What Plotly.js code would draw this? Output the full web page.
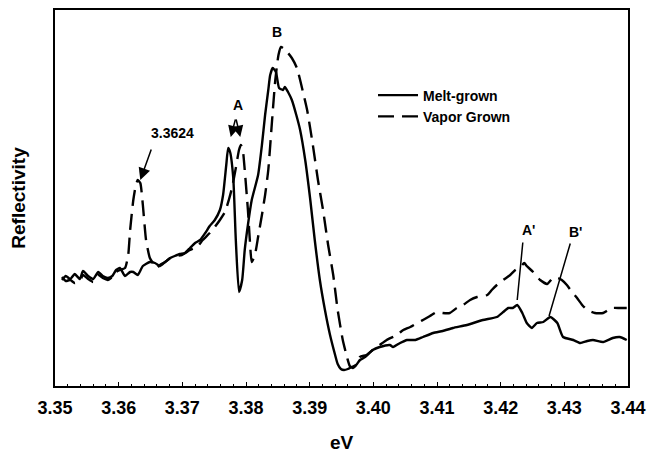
<!DOCTYPE html>
<html>
<head>
<meta charset="utf-8">
<script src="https://cdn.plot.ly/plotly-3.0.1.min.js"></script>
<style>html,body{margin:0;padding:0;background:#fff;}#chart{width:647px;height:453px;}</style>
</head>
<body>
<div id="chart"></div>
<script>
// Melt-grown (solid)
const meltEV = [3.3511,3.3517,3.3524,3.3531,3.3539,3.3544,3.3552,3.3560,3.3568,3.3575,3.3583,3.3590,3.3596,3.3602,3.3610,3.3618,3.3623,3.3630,3.3638,3.3649,3.3657,3.3665,3.3673,3.3681,3.3688,3.3696,3.3704,3.3712,3.3720,3.3728,3.3736,3.3743,3.3751,3.3759,3.3764,3.3769,3.3772,3.3775,3.3780,3.3784,3.3789,3.3794,3.3798,3.3803,3.3809,3.3819,3.3825,3.3830,3.3835,3.3838,3.3842,3.3847,3.3852,3.3858,3.3861,3.3866,3.3872,3.3879,3.3885,3.3893,3.3901,3.3908,3.3916,3.3924,3.3932,3.3940,3.3944,3.3949,3.3954,3.3960,3.3966,3.3973,3.3979,3.3987,3.3999,3.4010,3.4026,3.4031,3.4042,3.4053,3.4066,3.4078,3.4094,3.4109,3.4125,3.4147,3.4172,3.4194,3.4204,3.4212,3.4219,3.4226,3.4234,3.4241,3.4249,3.4257,3.4267,3.4278,3.4289,3.4298,3.4314,3.4325,3.4336,3.4345,3.4361,3.4376,3.4387,3.4398];
const meltR = [10.6,11.0,10.7,11.2,10.7,11.5,11.0,10.7,11.4,11.0,10.8,11.0,11.6,11.8,11.0,11.4,11.4,11.1,12.0,12.4,12.3,12.0,12.4,12.8,13.0,13.2,13.3,13.8,14.3,14.6,15.3,16.0,16.6,17.6,19.1,22.1,23.8,23.4,20.8,14.6,9.4,10.6,13.6,16.1,18.6,21.1,24.1,27.1,29.6,31.1,31.8,31.4,29.8,29.6,29.9,29.4,28.6,27.1,25.6,22.6,18.6,14.6,10.6,7.6,5.1,3.1,2.2,1.7,1.6,1.7,1.9,2.1,2.6,2.9,3.6,3.9,4.1,3.9,4.3,4.6,4.6,4.9,5.3,5.5,5.8,6.1,6.6,6.9,7.4,7.8,7.8,8.1,7.3,6.3,5.8,6.3,6.4,6.9,6.3,4.9,4.6,4.3,4.5,4.6,4.4,4.8,4.9,4.6];

// Vapor Grown (dashed)
const vaporEV = [3.3511,3.3517,3.3524,3.3531,3.3539,3.3544,3.3552,3.3560,3.3568,3.3575,3.3583,3.3590,3.3596,3.3602,3.3610,3.3615,3.3618,3.3623,3.3627,3.3630,3.3634,3.3638,3.3643,3.3649,3.3657,3.3660,3.3665,3.3673,3.3681,3.3688,3.3699,3.3712,3.3723,3.3732,3.3743,3.3751,3.3759,3.3767,3.3773,3.3778,3.3784,3.3789,3.3792,3.3795,3.3798,3.3803,3.3806,3.3809,3.3814,3.3819,3.3825,3.3830,3.3835,3.3841,3.3846,3.3851,3.3855,3.3860,3.3866,3.3872,3.3880,3.3888,3.3896,3.3905,3.3913,3.3921,3.3929,3.3937,3.3944,3.3952,3.3959,3.3963,3.3968,3.3973,3.3979,3.3989,3.3999,3.4010,3.4021,3.4037,3.4047,3.4058,3.4069,3.4078,3.4089,3.4100,3.4109,3.4120,3.4131,3.4141,3.4152,3.4163,3.4179,3.4186,3.4194,3.4204,3.4215,3.4223,3.4231,3.4237,3.4241,3.4251,3.4262,3.4273,3.4282,3.4290,3.4296,3.4304,3.4312,3.4320,3.4328,3.4336,3.4348,3.4361,3.4369,3.4376,3.4387,3.4398];
const vaporR = [10.9,10.5,10.6,10.3,10.5,11.1,10.7,10.4,11.1,10.8,10.6,10.9,11.4,11.6,11.8,13.1,15.6,18.6,20.1,20.6,20.3,18.1,14.6,12.8,12.0,11.8,12.1,12.4,12.8,13.0,13.1,13.6,13.9,14.6,15.3,15.9,16.6,17.4,18.6,19.8,21.8,23.6,24.1,23.6,21.6,17.6,14.6,12.4,13.1,14.9,17.1,19.1,21.6,26.6,30.6,33.1,33.9,33.7,33.3,32.8,31.8,29.8,27.6,24.1,20.6,17.6,14.1,11.1,7.6,4.6,2.8,2.0,1.8,2.1,2.9,3.1,3.6,4.1,4.6,5.1,5.6,5.9,6.3,6.6,7.0,7.4,7.3,7.3,7.8,8.1,8.6,8.9,9.1,9.6,10.1,10.6,11.1,11.6,11.9,12.3,12.0,11.4,10.6,10.2,10.8,10.8,10.6,10.1,9.4,8.8,8.1,7.6,7.3,7.3,7.6,7.8,7.8,7.8];

const xTicks = [3.35,3.36,3.37,3.38,3.39,3.40,3.41,3.42,3.43,3.44];
const seriesNames = ["Melt-grown","Vapor Grown"];

const FONT = "Liberation Sans, Arial, sans-serif";

const traces = [
  {x: meltEV, y: meltR, name: seriesNames[0], mode: "lines",
   line: {color: "#000", width: 2.4, shape: "spline", smoothing: 0.5}},
  {x: vaporEV, y: vaporR, name: seriesNames[1], mode: "lines",
   line: {color: "#000", width: 2.4, dash: "16px,8px", shape: "spline", smoothing: 0.5}}
];

const annBase = {xref: "x", yref: "y", axref: "x", ayref: "y", showarrow: true,
  arrowcolor: "#000", font: {family: FONT, size: 14, color: "#000", weight: "bold"}};

const layout = {
  width: 647, height: 453,
  margin: {l: 55, r: 19, t: 10, b: 67},
  paper_bgcolor: "#fff", plot_bgcolor: "#fff",
  showlegend: true,
  legend: {x: 0.555, y: 0.815, xanchor: "left", yanchor: "top", bgcolor: "rgba(0,0,0,0)",
    font: {family: FONT, size: 14, color: "#000", weight: "bold"}, tracegroupgap: 0, itemwidth: 40},
  xaxis: {
    range: [3.35, 3.44], tickvals: xTicks, tickformat: ".2f",
    showline: true, mirror: true, linecolor: "#000", linewidth: 2,
    ticks: "inside", ticklen: 4, tickcolor: "#000", tickwidth: 1,
    minor: {dtick: 0.002, ticks: "inside", ticklen: 2, tickcolor: "#000"},
    showgrid: false, zeroline: false, ticklabelstandoff: 4,
    tickfont: {family: FONT, size: 18, color: "#000", weight: "bold"},
    title: {text: "eV", font: {family: FONT, size: 19, color: "#000", weight: "bold"}, standoff: 20}
  },
  yaxis: {
    range: [0, 37.6], showticklabels: false,
    showline: true, mirror: true, linecolor: "#000", linewidth: 2,
    ticks: "", showgrid: false, zeroline: false,
    title: {text: "Reflectivity", font: {family: FONT, size: 19, color: "#000", weight: "bold"}, standoff: 22}
  },
  annotations: [
    Object.assign({}, annBase, {x: 3.3634, y: 20.6, ax: 3.3652, ay: 23.8, text: "", arrowhead: 2, arrowsize: 1.6, arrowwidth: 1.5}),
    Object.assign({}, annBase, {x: 3.3684, y: 25.3, text: "3.3624", showarrow: false}),
    Object.assign({}, annBase, {x: 3.3776, y: 24.9, ax: 3.3784, ay: 26.8, text: "", arrowhead: 2, arrowsize: 1.5, arrowwidth: 1.5}),
    Object.assign({}, annBase, {x: 3.3791, y: 24.9, ax: 3.3784, ay: 26.8, text: "", arrowhead: 2, arrowsize: 1.5, arrowwidth: 1.5}),
    Object.assign({}, annBase, {x: 3.3787, y: 28.1, text: "A", showarrow: false}),
    Object.assign({}, annBase, {x: 3.3849, y: 35.4, text: "B", showarrow: false}),
    Object.assign({}, annBase, {x: 3.4226, y: 8.6, ax: 3.4235, ay: 14.5, text: "", arrowhead: 0, arrowwidth: 1.5}),
    Object.assign({}, annBase, {x: 3.4243, y: 15.6, text: "A'", showarrow: false}),
    Object.assign({}, annBase, {x: 3.4276, y: 7.0, ax: 3.4310, ay: 14.4, text: "", arrowhead: 0, arrowwidth: 1.5}),
    Object.assign({}, annBase, {x: 3.4317, y: 15.4, text: "B'", showarrow: false})
  ]
};

Plotly.newPlot("chart", traces, layout, {displayModeBar: false, staticPlot: true});
</script>
</body>
</html>
